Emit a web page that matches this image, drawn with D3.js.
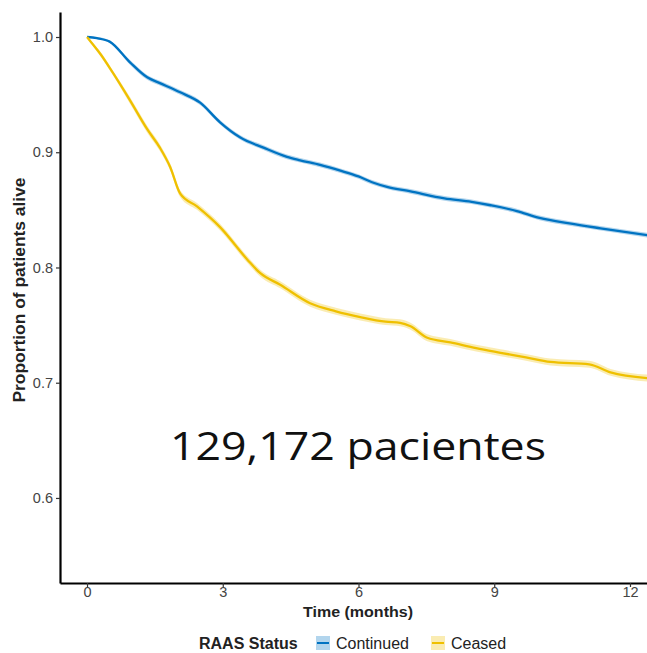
<!DOCTYPE html>
<html>
<head>
<meta charset="utf-8">
<script src="https://cdn.jsdelivr.net/npm/d3@7"></script>
<style>
  html, body { margin: 0; padding: 0; background: #ffffff; }
  svg { display: block; }
</style>
</head>
<body>
<svg id="chart" width="647" height="653"></svg>
<script>
// ---- data ----
const xTicks = [0, 3, 6, 9, 12];
const yTicks = [0.6, 0.7, 0.8, 0.9, 1.0];

const continuedTime = [0, 0.22, 0.5, 0.95, 1.33, 1.61, 2.06, 2.5, 2.94, 3.38, 3.9, 4.42, 4.71, 5.15, 5.6, 6.0, 6.3, 6.63, 7.15, 7.9, 8.5, 8.92, 9.5, 10.0, 10.7, 11.35, 12.39];
const continuedSurv = [1.0, 0.999, 0.996, 0.978, 0.965, 0.960, 0.952, 0.943, 0.926, 0.913, 0.904, 0.896, 0.893, 0.889, 0.884, 0.879, 0.874, 0.870, 0.866, 0.860, 0.857, 0.854, 0.849, 0.843, 0.838, 0.834, 0.828];
const continuedCI = [0, 0.001, 0.001, 0.002, 0.002, 0.002, 0.002, 0.002, 0.002, 0.002, 0.002, 0.002, 0.002, 0.002, 0.002, 0.002, 0.002, 0.002, 0.002, 0.002, 0.002, 0.002, 0.002, 0.002, 0.002, 0.002, 0.002];

const ceasedTime = [0, 0.1, 0.3, 0.57, 0.95, 1.33, 1.61, 1.84, 2.06, 2.43, 2.94, 3.54, 3.83, 4.27, 4.93, 5.5, 6.04, 6.6, 6.92, 7.15, 7.52, 8.03, 8.6, 9.14, 9.7, 10.24, 11.1, 11.57, 12.39];
const ceasedSurv = [1.0, 0.995, 0.985, 0.969, 0.945, 0.920, 0.904, 0.887, 0.864, 0.853, 0.835, 0.807, 0.795, 0.785, 0.769, 0.762, 0.757, 0.753, 0.752, 0.749, 0.739, 0.735, 0.730, 0.726, 0.722, 0.718, 0.716, 0.709, 0.704];
const ceasedCI = [0, 0.001, 0.002, 0.002, 0.003, 0.003, 0.003, 0.003, 0.003, 0.003, 0.003, 0.003, 0.003, 0.003, 0.003, 0.003, 0.003, 0.003, 0.003, 0.003, 0.003, 0.003, 0.003, 0.003, 0.003, 0.003, 0.003, 0.003, 0.003];

const seriesNames = ["Continued", "Ceased"];
const seriesColors = ["#0073C2", "#EFC000"];

// ---- build ----
const FONT = "'Liberation Sans', Arial, sans-serif";
const svg = d3.select("#chart");
const mLeft = 60, mRight = 647, mTop = 12, mBottom = 583;

const x = d3.scaleLinear().domain([-0.597, 12.376]).range([mLeft, mRight]);
const y = d3.scaleLinear().domain([0.5262, 1.0217]).range([mBottom, mTop]);

const series = [
  { name: seriesNames[0], color: seriesColors[0], t: continuedTime, s: continuedSurv, ci: continuedCI },
  { name: seriesNames[1], color: seriesColors[1], t: ceasedTime, s: ceasedSurv, ci: ceasedCI }
];

svg.append("defs").append("clipPath").attr("id", "clip")
  .append("rect").attr("x", mLeft + 1).attr("y", mTop).attr("width", mRight - mLeft).attr("height", mBottom - mTop);

const plot = svg.append("g").attr("clip-path", "url(#clip)");

series.forEach(sr => {
  const pts = sr.t.map((t, i) => ({ t, s: sr.s[i], c: sr.ci[i] }));
  const area = d3.area().x(d => x(d.t)).y0(d => y(d.s - d.c)).y1(d => y(d.s + d.c)).curve(d3.curveMonotoneX);
  plot.append("path").datum(pts).attr("d", area)
    .attr("fill", sr.color).attr("fill-opacity", 0.3).attr("stroke", "none");
  const line = d3.line().x(d => x(d.t)).y(d => y(d.s)).curve(d3.curveMonotoneX);
  plot.append("path").datum(pts).attr("d", line)
    .attr("fill", "none").attr("stroke", sr.color).attr("stroke-width", 2.3)
    .attr("stroke-linejoin", "round");
});

// axes
const xAxis = d3.axisBottom(x).tickValues(xTicks).tickSize(4).tickPadding(0).tickSizeOuter(0).tickFormat(d3.format("d"));
const yAxis = d3.axisLeft(y).tickValues(yTicks).tickSize(4).tickPadding(3).tickSizeOuter(0).tickFormat(d3.format(".1f"));

const gx = svg.append("g").attr("transform", `translate(0,${mBottom})`).call(xAxis);
const gy = svg.append("g").attr("transform", `translate(${mLeft},0)`).call(yAxis);

[gx, gy].forEach(g => {
  g.attr("font-family", null).attr("font-size", null);
  g.select(".domain").attr("stroke", "#000").attr("stroke-width", 2.2);
  g.selectAll(".tick line").attr("stroke", "#333").attr("stroke-width", 1.2);
  g.selectAll(".tick text").attr("fill", "#444")
    .style("font-family", FONT).style("font-size", "14.5px");
});

// axis titles
svg.append("text").attr("x", 358).attr("y", 617).attr("text-anchor", "middle")
  .style("font-family", FONT).style("font-size", "15px").style("font-weight", "bold").attr("fill", "#222")
  .attr("textLength", 110).attr("lengthAdjust", "spacingAndGlyphs")
  .text("Time (months)");

svg.append("text").attr("transform", `translate(25,290) rotate(-90)`)
  .attr("text-anchor", "middle")
  .style("font-family", FONT).style("font-size", "16.5px").style("font-weight", "bold").attr("fill", "#222")
  .attr("textLength", 225).attr("lengthAdjust", "spacingAndGlyphs")
  .text("Proportion of patients alive");

// legend
const lg = svg.append("g").attr("transform", "translate(0,649)");
lg.append("text").attr("x", 199).attr("y", 0)
  .style("font-family", FONT).style("font-size", "16px").style("font-weight", "bold").attr("fill", "#222")
  .text("RAAS Status");
const legendX = [316, 431];
const labelX = [336, 451];
series.forEach((sr, i) => {
  lg.append("rect").attr("x", legendX[i]).attr("y", -13).attr("width", 14).attr("height", 14)
    .attr("fill", sr.color).attr("fill-opacity", 0.3);
  lg.append("line").attr("x1", legendX[i] + 1).attr("x2", legendX[i] + 13).attr("y1", -6).attr("y2", -6)
    .attr("stroke", sr.color).attr("stroke-width", 2);
  lg.append("text").attr("x", labelX[i]).attr("y", 0)
    .style("font-family", FONT).style("font-size", "16px").attr("fill", "#222").text(sr.name);
});

// overlay annotation
svg.append("text").attr("x", 170).attr("y", 460)
  .style("font-family", "'Open Sans', 'Noto Sans', sans-serif").style("font-size", "38px").attr("fill", "#111")
  .attr("textLength", 376).attr("lengthAdjust", "spacingAndGlyphs")
  .text("129,172 pacientes");
</script>
</body>
</html>
